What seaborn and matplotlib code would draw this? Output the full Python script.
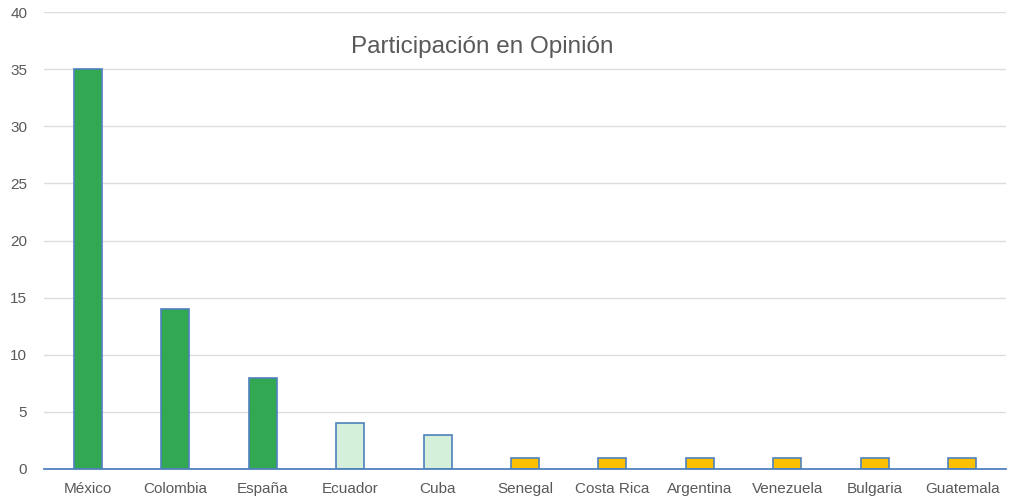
import matplotlib
matplotlib.use("Agg")
import pandas as pd
import seaborn as sns
from matplotlib import pyplot as plt

COUNTRIES = ["México", "Colombia", "España", "Ecuador", "Cuba", "Senegal",
             "Costa Rica", "Argentina", "Venezuela", "Bulgaria", "Guatemala"]
VALUES = [35, 14, 8, 4, 3, 1, 1, 1, 1, 1, 1]
GROUPS = ["alto", "alto", "alto", "medio", "medio", "bajo",
          "bajo", "bajo", "bajo", "bajo", "bajo"]
Y_TICKS = [0, 5, 10, 15, 20, 25, 30, 35, 40]

PALETTE = {"alto": "#33A853", "medio": "#D5F0DA", "bajo": "#FFC000"}

df = pd.DataFrame({"País": COUNTRIES, "Valor": VALUES, "Grupo": GROUPS})

sns.set_style("white")
plt.rcParams["font.family"] = ["Liberation Sans", "DejaVu Sans"]

fig = plt.figure(figsize=(10.09, 5.0), dpi=100)
ax = fig.add_axes([44 / 1009, 31 / 500, 962 / 1009, 457 / 500])

sns.barplot(
    data=df, x="País", y="Valor", hue="Grupo", palette=PALETTE,
    dodge=False, width=0.32, edgecolor="#4F81BD", linewidth=1.2,
    saturation=1, legend=False, ax=ax,
)

ax.set_ylim(0, 40)
ax.set_yticks(Y_TICKS)
ax.set_xlim(-0.5, len(COUNTRIES) - 0.5)
ax.yaxis.grid(True, color="#DDDDDD", linewidth=1.0)
ax.set_axisbelow(True)
for side in ["top", "right", "left"]:
    ax.spines[side].set_visible(False)
ax.spines["bottom"].set_color("#4F81BD")
ax.spines["bottom"].set_linewidth(1.3)
ax.set_xlabel("")
ax.set_ylabel("")
ax.tick_params(axis="both", length=0, labelsize=11, labelcolor="#595959")
ax.tick_params(axis="y", pad=12)
ax.tick_params(axis="x", pad=17)
# keep the country names on one baseline, accents or not
for lbl in ax.get_xticklabels():
    lbl.set_verticalalignment("baseline")

fig.text(482 / 1009, 1 - 47 / 500, "Participación en Opinión",
         ha="center", va="center", fontsize=17.5, color="#595959")

fig.savefig("out.png", dpi=100)
